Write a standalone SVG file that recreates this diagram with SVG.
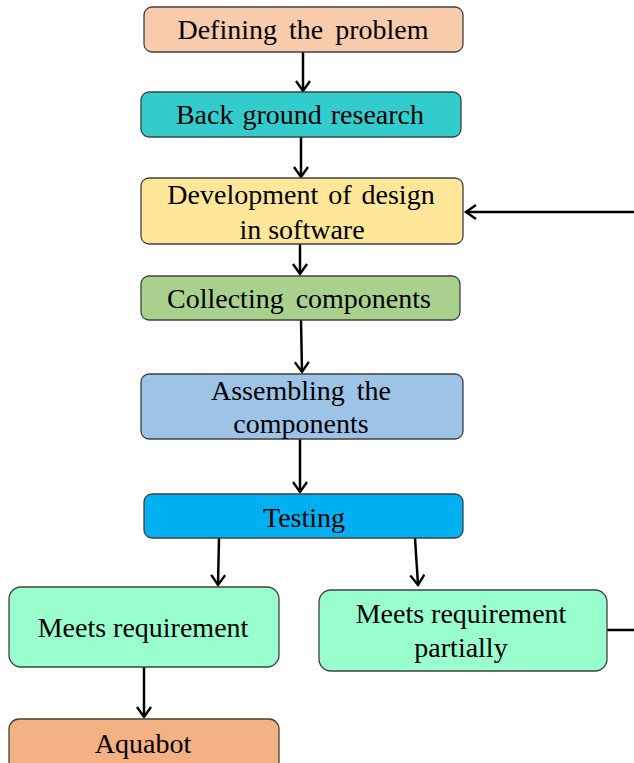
<svg xmlns="http://www.w3.org/2000/svg" width="634" height="763" viewBox="0 0 634 763">
<defs>
<marker id="ah" viewBox="0 0 16 16" refX="13" refY="8" markerWidth="16" markerHeight="16" markerUnits="userSpaceOnUse" orient="auto">
<polyline points="3,1 13,8 3,15" fill="none" stroke="#000" stroke-width="2.4"/>
</marker>
</defs>
<style>
.box{stroke:#404040;stroke-width:1.3}
.t{font-family:"Liberation Serif","Times New Roman",serif;font-size:28px;fill:#000;text-anchor:middle}
.c{fill:none;stroke:#000;stroke-width:2.5;marker-end:url(#ah)}
.l{fill:none;stroke:#000;stroke-width:2.5}
</style>
<rect width="634" height="763" fill="#fff"/>
<g id="connectors">
<path class="c" d="M303,52 L303,91"/>
<path class="c" d="M301,137 L301,177"/>
<path class="c" d="M300,244 L300,274"/>
<path class="c" d="M301,320 L302,372"/>
<path class="c" d="M300,439 L300,492"/>
<path class="c" d="M219,538 L218,585"/>
<path class="c" d="M415,538 L418,585"/>
<path class="c" d="M144,667 L144,717"/>
<path class="l" d="M607,630 L634,630"/>
<path class="c" d="M634,212 L466,212"/>
</g>
<g id="n1"><rect class="box" x="144" y="7" width="319" height="45" rx="8" fill="#F8CBAD"/><text class="t" x="303" y="39" word-spacing="5">Defining the problem</text></g>
<g id="n2"><rect class="box" x="141" y="92" width="320" height="45" rx="8" fill="#33CCCC"/><text class="t" x="300" y="124" word-spacing="2">Back ground research</text></g>
<g id="n3"><rect class="box" x="141" y="178" width="322" height="66" rx="8" fill="#FFE699"/><text class="t" x="301" y="204" word-spacing="3">Development of design</text><text class="t" x="302" y="239">in software</text></g>
<g id="n4"><rect class="box" x="141" y="276" width="319" height="44" rx="8" fill="#A9D18E"/><text class="t" x="299" y="308" word-spacing="5">Collecting components</text></g>
<g id="n5"><rect class="box" x="141" y="374" width="322" height="65" rx="8" fill="#9DC3E6"/><text class="t" x="301" y="400" word-spacing="5">Assembling the</text><text class="t" x="301" y="433">components</text></g>
<g id="n6"><rect class="box" x="144" y="494" width="319" height="44" rx="8" fill="#00B0F0"/><text class="t" x="304" y="527">Testing</text></g>
<g id="n7"><rect class="box" x="9" y="587" width="270" height="80" rx="12" fill="#99FFCC"/><text class="t" x="143" y="637">Meets requirement</text></g>
<g id="n8"><rect class="box" x="319" y="590" width="288" height="81" rx="12" fill="#99FFCC"/><text class="t" x="461" y="623">Meets requirement</text><text class="t" x="461" y="657">partially</text></g>
<g id="n9"><rect class="box" x="9" y="719" width="270" height="60" rx="10" fill="#F4B183"/><text class="t" x="143" y="753">Aquabot</text></g>
</svg>
